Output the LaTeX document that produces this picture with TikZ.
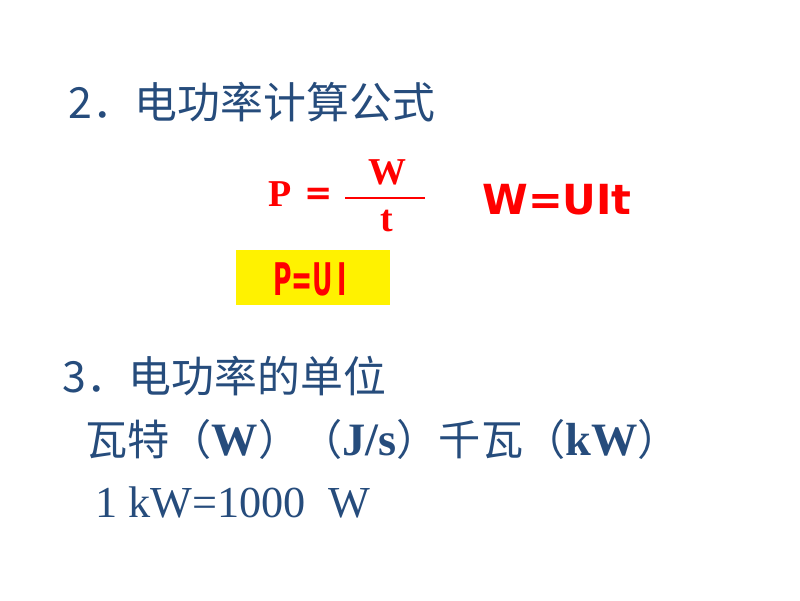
\documentclass[tikz,border=0pt]{standalone}
\usepackage{fontspec}
\usepackage{graphicx}
\usepackage{xcolor}
\usepackage{tikz}
\setmainfont{Liberation Serif}
\newfontfamily\cjk{Noto Sans CJK SC}
\newfontfamily\dvs{DejaVu Sans}
\definecolor{textblue}{RGB}{38,76,124}
\definecolor{formred}{RGB}{255,0,0}
\tikzstyle{heading} = [anchor=base west, inner sep=0pt, text=textblue, font=\fontsize{30.5}{36}\selectfont\cjk]
\tikzstyle{unitline} = [anchor=base west, inner sep=0pt, text=textblue, font=\fontsize{30}{36}\selectfont]
\tikzstyle{formula} = [anchor=base, inner sep=0pt, text=formred, font=\fontsize{27}{32}\selectfont\bfseries]
\tikzstyle{sansformula} = [anchor=base west, inner sep=0pt, text=formred, font=\fontsize{29.5}{34}\selectfont\dvs\bfseries]
\tikzstyle{highlight} = [rectangle, fill=yellow, minimum width=3.85cm, minimum height=1.375cm, inner sep=0pt]

\begin{document}
\begin{tikzpicture}
   \useasboundingbox (0,0) rectangle (20,15);
   \node (h2) [heading] at (1.7,12.025) {2．电功率计算公式};
   \node (p) [formula, anchor=base west] at (6.7,9.825) {P};
   \node (eq) [formula, anchor=base west, font=\fontsize{24}{30}\selectfont\dvs\bfseries] at (7.6,9.875) {=};
   \node (num) [formula] at (9.675,10.375) {W};
   \node (den) [formula] at (9.675,9.2) {t};
   \coordinate (barl) at (8.625,10.05);
   \coordinate (barr) at (10.625,10.05);
   \draw [formred, line width=1.2pt] (barl) -- (barr);
   \node (wuit) [sansformula] at (12.05,9.625) {W=UIt};
   \node (box) [highlight] at (7.825,8.0625) {};
   \node (pui) [text=formred, inner sep=0pt, anchor=base, font=\fontsize{32}{38}\selectfont\dvs\bfseries] at (7.75,7.625) {\scalebox{0.56}[1]{P=U\,I}};
   \node (h3) [heading] at (1.55,5.2) {3．电功率的单位};
   \node (units) [unitline] at (2.125,3.625) {{\cjk 瓦特（}{\fontsize{33}{38}\selectfont\bfseries W}{\cjk ）（}{\fontsize{33}{38}\selectfont\bfseries J/s}{\cjk ）千瓦（}{\fontsize{33}{38}\selectfont\bfseries kW}{\cjk ）}};
   \node (kw) [unitline, font=\fontsize{31.5}{38}\selectfont] at (2.375,2.075) {1 kW=1000~~W};
\end{tikzpicture}
\end{document}
